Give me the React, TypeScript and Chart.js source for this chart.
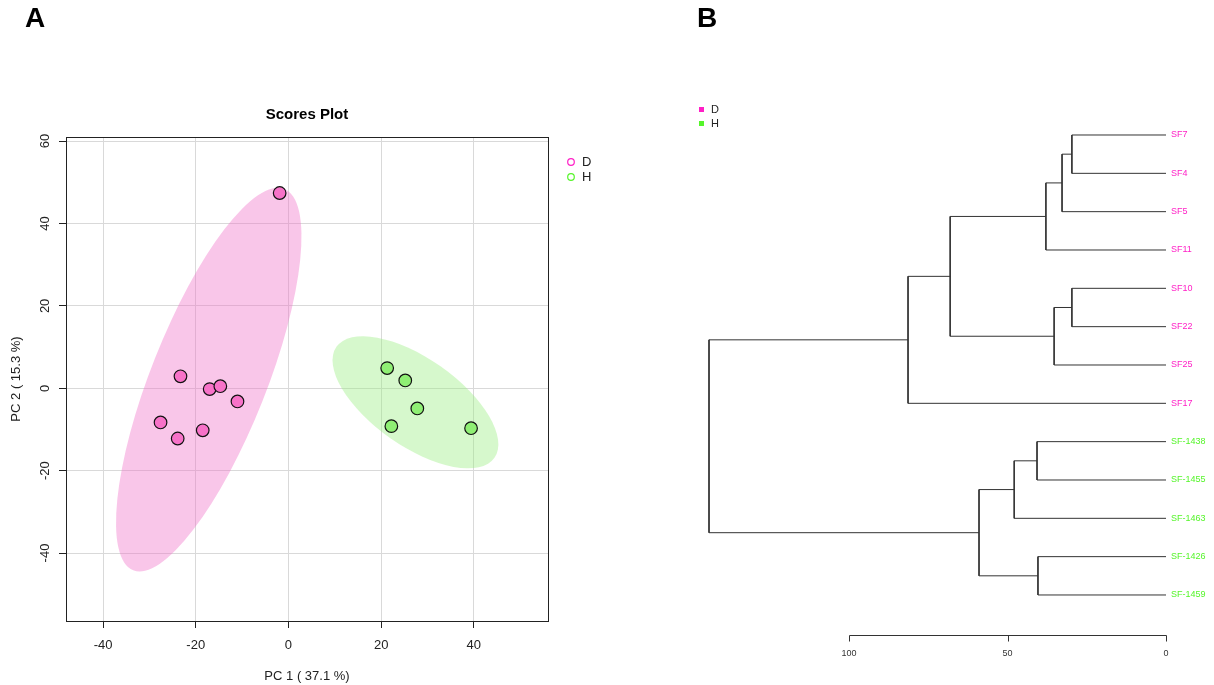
import { useEffect, useRef } from "react";
import { Chart, registerables } from "chart.js";

Chart.register(...registerables);

const FONT = '"Liberation Sans", Arial, Helvetica, sans-serif';

// ---------- Panel A: PCA scores ----------
const groupNames = ["D", "H"];
const groupPointColors = ["#F772C8", "#8FEF74"];
const groupLegendColors = ["#FF1FC6", "#55F52A"];
const groupEllipseFill = ["rgba(240,112,200,0.4)", "rgba(152,238,128,0.4)"];

const pc1D = [-1.9, -23.3, -17.0, -14.7, -11.0, -27.6, -18.5, -23.9];
const pc2D = [47.4, 2.9, -0.2, 0.5, -3.2, -8.3, -10.2, -12.2];
const pc1H = [21.3, 25.2, 27.8, 22.2, 39.4];
const pc2H = [4.9, 1.9, -4.9, -9.2, -9.7];

// confidence ellipses: centre and two conjugate semi-axes (data units)
const ellipseCenterD = [-17.2, 2.1];
const ellipseAxis1D = [16.3, 46.3];
const ellipseAxis2D = [11.6, -5.2];
const ellipseCenterH = [27.4, -3.4];
const ellipseAxis1H = [17.05, -13.46];
const ellipseAxis2H = [-5.41, -8.72];

const xTicksA = [-40, -20, 0, 20, 40];
const yTicksA = [-40, -20, 0, 20, 40, 60];
const xRangeA = [-48, 56];
const yRangeA = [-56.5, 61];

const titleA = "Scores Plot";
const xTitleA = "PC 1 ( 37.1 %)";
const yTitleA = "PC 2 ( 15.3 %)";

// ---------- Panel B: dendrogram ----------
const leafLabels = [
  "SF7", "SF4", "SF5", "SF11", "SF10", "SF22", "SF25", "SF17",
  "SF-1438", "SF-1455", "SF-1463", "SF-1426", "SF-1459",
];
const leafGroups = [0, 0, 0, 0, 0, 0, 0, 0, 1, 1, 1, 1, 1];
// hclust-style merge table: negative = leaf (1-based), positive = earlier merge
const mergeLeft = [-1, -5, 1, 2, 3, -12, -9, 7, 8, 5, 10, 11];
const mergeRight = [-2, -6, -3, -7, -4, -13, -10, -11, 6, 4, -8, 9];
const mergeHeight = [29.7, 29.7, 32.8, 35.3, 37.9, 40.4, 40.7, 47.9, 59.0, 68.1, 81.4, 144.2];
const distTicks = [0, 50, 100];

function ellipsePath(chart: any, c: number[], u: number[], v: number[]) {
  const xs = chart.scales.x;
  const ys = chart.scales.y;
  const cx = xs.getPixelForValue(c[0]);
  const cy = ys.getPixelForValue(c[1]);
  const ux = xs.getPixelForValue(c[0] + u[0]) - cx;
  const uy = ys.getPixelForValue(c[1] + u[1]) - cy;
  const vx = xs.getPixelForValue(c[0] + v[0]) - cx;
  const vy = ys.getPixelForValue(c[1] + v[1]) - cy;
  const ctx = chart.ctx;
  ctx.save();
  ctx.beginPath();
  ctx.transform(ux, uy, vx, vy, cx, cy);
  ctx.arc(0, 0, 1, 0, Math.PI * 2);
  ctx.restore();
}

const panelAPlugin = {
  id: "panelA",
  beforeDatasetsDraw(chart: any) {
    const ctx = chart.ctx;
    const ells = [
      [ellipseCenterD, ellipseAxis1D, ellipseAxis2D],
      [ellipseCenterH, ellipseAxis1H, ellipseAxis2H],
    ];
    ells.forEach((e, i) => {
      ellipsePath(chart, e[0], e[1], e[2]);
      ctx.save();
      ctx.fillStyle = groupEllipseFill[i];
      ctx.fill();
      ctx.restore();
    });
  },
  afterDraw(chart: any) {
    const ctx = chart.ctx;
    const a = chart.chartArea;
    const ys = chart.scales.y;
    ctx.save();
    // box
    ctx.strokeStyle = "#222";
    ctx.lineWidth = 1;
    ctx.strokeRect(Math.round(a.left) + 0.5, Math.round(a.top) + 0.5, Math.round(a.right - a.left), Math.round(a.bottom - a.top));
    // x tick labels
    ctx.fillStyle = "#222";
    ctx.font = `13px ${FONT}`;
    ctx.textAlign = "center";
    ctx.textBaseline = "middle";
    chart.scales.x.ticks.forEach((t: any) => {
      ctx.fillText(t.label ?? String(t.value), chart.scales.x.getPixelForValue(t.value), 645);
    });
    // y tick labels (rotated)
    ys.ticks.forEach((t: any) => {
      ctx.save();
      ctx.translate(45, ys.getPixelForValue(t.value));
      ctx.rotate(-Math.PI / 2);
      ctx.fillText(t.label ?? String(t.value), 0, 0);
      ctx.restore();
    });
    // axis titles
    const midX = (a.left + a.right) / 2;
    const midY = (a.top + a.bottom) / 2;
    ctx.fillText(xTitleA, midX, 676);
    ctx.save();
    ctx.translate(16, midY);
    ctx.rotate(-Math.PI / 2);
    ctx.fillText(yTitleA, 0, 0);
    ctx.restore();
    // title
    ctx.font = `bold 15px ${FONT}`;
    ctx.fillStyle = "#000";
    ctx.fillText(titleA, midX, 115);
    // legend
    ctx.font = `13px ${FONT}`;
    ctx.textAlign = "left";
    groupNames.forEach((g, i) => {
      const y = 162 + i * 15;
      ctx.beginPath();
      ctx.arc(571, y, 3.3, 0, Math.PI * 2);
      ctx.strokeStyle = groupLegendColors[i];
      ctx.lineWidth = 1.2;
      ctx.stroke();
      ctx.fillStyle = "#222";
      ctx.fillText(g, 582, y + 0.5);
    });
    // panel letter
    ctx.font = `bold 28px ${FONT}`;
    ctx.fillStyle = "#000";
    ctx.textAlign = "center";
    ctx.fillText("A", 35, 19);
    ctx.restore();
  },
};

const panelBPlugin = {
  id: "panelB",
  afterDraw(chart: any) {
    const ctx = chart.ctx;
    const xs = chart.scales.x;
    const a = chart.chartArea;
    const y0 = Math.round(a.bottom) + 0.5;
    ctx.save();
    ctx.strokeStyle = "#333";
    ctx.lineWidth = 1;
    const xa = Math.round(xs.getPixelForValue(distTicks[distTicks.length - 1])) + 0.5;
    const xb = Math.round(xs.getPixelForValue(distTicks[0])) + 0.5;
    ctx.beginPath();
    ctx.moveTo(xa, y0);
    ctx.lineTo(xb, y0);
    distTicks.forEach((v) => {
      const px = Math.round(xs.getPixelForValue(v)) + 0.5;
      ctx.moveTo(px, y0);
      ctx.lineTo(px, y0 + 6);
    });
    ctx.stroke();
    // legend
    ctx.font = `11px ${FONT}`;
    ctx.textAlign = "left";
    ctx.textBaseline = "middle";
    groupNames.forEach((g, i) => {
      const y = 110 + i * 14;
      ctx.fillStyle = groupLegendColors[i];
      ctx.fillRect(92, y - 3, 5, 5);
      ctx.fillStyle = "#222";
      ctx.fillText(g, 104, y);
    });
    // panel letter
    ctx.font = `bold 28px ${FONT}`;
    ctx.fillStyle = "#000";
    ctx.textAlign = "center";
    ctx.fillText("B", 100, 19);
    ctx.restore();
  },
};

function makeConfigA(): any {
  const dsD = pc1D.map((x, i) => ({ x, y: pc2D[i] }));
  const dsH = pc1H.map((x, i) => ({ x, y: pc2H[i] }));
  const gridA = { color: "#d9d9d9", lineWidth: 1, tickColor: "#222", tickLength: 7, drawTicks: true };
  return {
    type: "scatter",
    data: {
      datasets: [dsD, dsH].map((d, i) => ({
        label: groupNames[i],
        data: d,
        pointRadius: 6.3,
        pointBackgroundColor: groupPointColors[i],
        pointBorderColor: "#111",
        pointBorderWidth: 1.2,
      })),
    },
    options: {
      responsive: false,
      animation: false,
      devicePixelRatio: 1,
      events: [],
      layout: { padding: { left: 0, right: 59, top: 137, bottom: 0 } },
      plugins: { legend: { display: false }, tooltip: { enabled: false }, title: { display: false } },
      scales: {
        x: {
          type: "linear",
          min: xRangeA[0],
          max: xRangeA[1],
          grid: gridA,
          border: { display: true, color: "#222" },
          ticks: { display: false },
          afterBuildTicks: (s: any) => { s.ticks = xTicksA.map((v) => ({ value: v })); },
          afterFit: (s: any) => { s.height = 64; },
        },
        y: {
          type: "linear",
          min: yRangeA[0],
          max: yRangeA[1],
          grid: gridA,
          border: { display: true, color: "#222" },
          ticks: { display: false },
          afterBuildTicks: (s: any) => { s.ticks = yTicksA.map((v) => ({ value: v })); },
          afterFit: (s: any) => { s.width = 66; },
        },
      },
    },
    plugins: [panelAPlugin],
  };
}

function makeConfigB(): any {
  const nodeY: number[] = [];
  const child = (c: number) =>
    c < 0 ? { y: -c - 1, h: 0 } : { y: nodeY[c - 1], h: mergeHeight[c - 1] };
  const segments = mergeHeight.map((h, i) => {
    const l = child(mergeLeft[i]);
    const r = child(mergeRight[i]);
    nodeY[i] = (l.y + r.y) / 2;
    return [
      { x: l.h, y: l.y },
      { x: h, y: l.y },
      { x: h, y: r.y },
      { x: r.h, y: r.y },
    ];
  });
  return {
    type: "scatter",
    data: {
      datasets: segments.map((seg) => ({
        data: seg,
        showLine: true,
        borderColor: "#333",
        borderWidth: 1,
        pointRadius: 0,
        tension: 0,
        fill: false,
      })),
    },
    options: {
      responsive: false,
      animation: false,
      devicePixelRatio: 1,
      events: [],
      layout: { padding: { left: 83, right: 0, top: 100, bottom: 0 } },
      plugins: { legend: { display: false }, tooltip: { enabled: false }, title: { display: false } },
      scales: {
        x: {
          type: "linear",
          reverse: true,
          min: 0,
          max: 150.2,
          grid: { display: false, drawTicks: false },
          border: { display: false },
          ticks: { font: { family: FONT, size: 9 }, color: "#333", padding: 13, maxRotation: 0, autoSkip: false },
          afterBuildTicks: (s: any) => { s.ticks = distTicks.map((v) => ({ value: v })); },
          afterFit: (s: any) => { s.height = 50; },
        },
        y: {
          type: "linear",
          position: "right",
          reverse: true,
          min: -0.913,
          max: 13.044,
          grid: { display: false, drawTicks: false },
          border: { display: false },
          ticks: {
            font: { family: FONT, size: 9 },
            padding: 5,
            autoSkip: false,
            color: (c: any) => groupLegendColors[leafGroups[Math.round(c.tick?.value ?? c.index)] ?? 0],
            callback: (v: any) => leafLabels[Math.round(Number(v))],
          },
          afterBuildTicks: (s: any) => { s.ticks = leafLabels.map((_, i) => ({ value: i })); },
          afterFit: (s: any) => { s.width = 48; },
        },
      },
    },
    plugins: [panelBPlugin],
  };
}

export default function App() {
  const refA = useRef<HTMLCanvasElement>(null);
  const refB = useRef<HTMLCanvasElement>(null);
  useEffect(() => {
    const a = new Chart(refA.current as HTMLCanvasElement, makeConfigA());
    const b = new Chart(refB.current as HTMLCanvasElement, makeConfigB());
    return () => {
      a.destroy();
      b.destroy();
    };
  }, []);
  return (
    <div style={{ position: "fixed", left: 0, top: 0, width: 1214, height: 685, background: "#fff", overflow: "hidden" }}>
      <canvas ref={refA} width={607} height={685} style={{ position: "absolute", left: 0, top: 0, width: 607, height: 685 }} />
      <canvas ref={refB} width={607} height={685} style={{ position: "absolute", left: 607, top: 0, width: 607, height: 685 }} />
    </div>
  );
}
